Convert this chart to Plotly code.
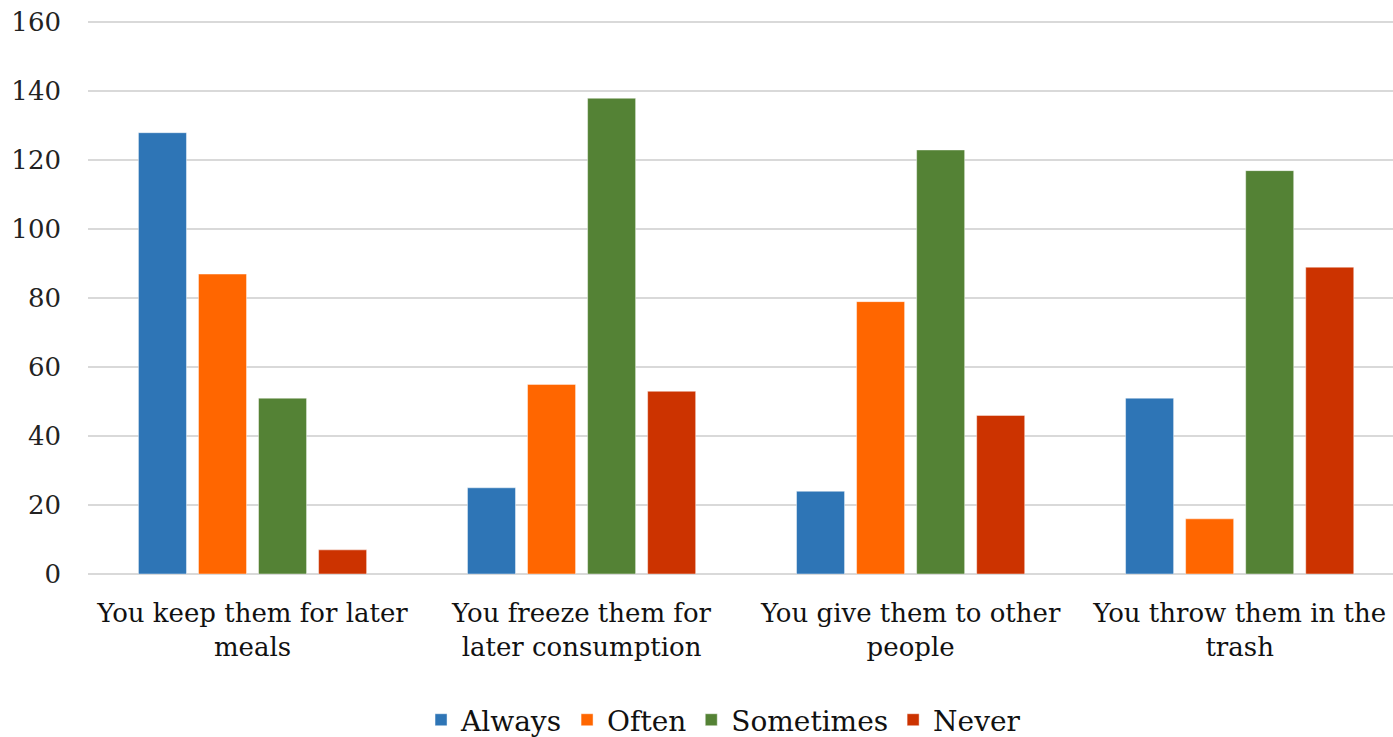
import plotly.graph_objects as go

categories = [
    "You keep them for later<br>meals",
    "You freeze them for<br>later consumption",
    "You give them to other<br>people",
    "You throw them in the<br>trash",
]
series_names = ["Always", "Often", "Sometimes", "Never"]
always = [128, 25, 24, 51]
often = [87, 55, 79, 16]
sometimes = [51, 138, 123, 117]
never = [7, 53, 46, 89]
colors = ["#2E75B6", "#FF6600", "#548235", "#CC3300"]
y_ticks = [0, 20, 40, 60, 80, 100, 120, 140, 160]

font_family = "DejaVu Serif"

fig = go.Figure()
for name, vals, col in zip(series_names, [always, often, sometimes, never], colors):
    fig.add_trace(go.Bar(
        name=name, x=categories, y=vals,
        marker=dict(color=col, line=dict(color="rgba(255,255,255,0.45)", width=1)),
    ))

fig.update_layout(
    width=1393, height=737,
    margin=dict(l=88, r=0, t=21, b=163),
    paper_bgcolor="white", plot_bgcolor="white",
    barmode="group", bargap=0.27, bargroupgap=0.2,
    font=dict(family=font_family, color="#222222"),
    showlegend=True,
    legend=dict(
        orientation="h", x=0.487, xanchor="center",
        yref="container", y=0.023, yanchor="middle",
        font=dict(size=28, family=font_family, color="#111111"),
        itemwidth=30, traceorder="normal",
    ),
)
fig.update_xaxes(
    range=[-0.5, 3.466],
    showgrid=False, showline=False, zeroline=False,
    ticks="", ticklabelstandoff=21,
    tickfont=dict(size=26, family=font_family, color="#111111"),
)
fig.update_yaxes(
    range=[0, 160.4], tickvals=y_ticks,
    showgrid=True, gridcolor="#d9d9d9", gridwidth=1.5,
    zeroline=True, zerolinecolor="#d9d9d9", zerolinewidth=1.5,
    showline=False, ticks="", ticklabelstandoff=26,
    tickfont=dict(size=26, family=font_family, color="#222222"),
)

fig.write_html("out.html")
